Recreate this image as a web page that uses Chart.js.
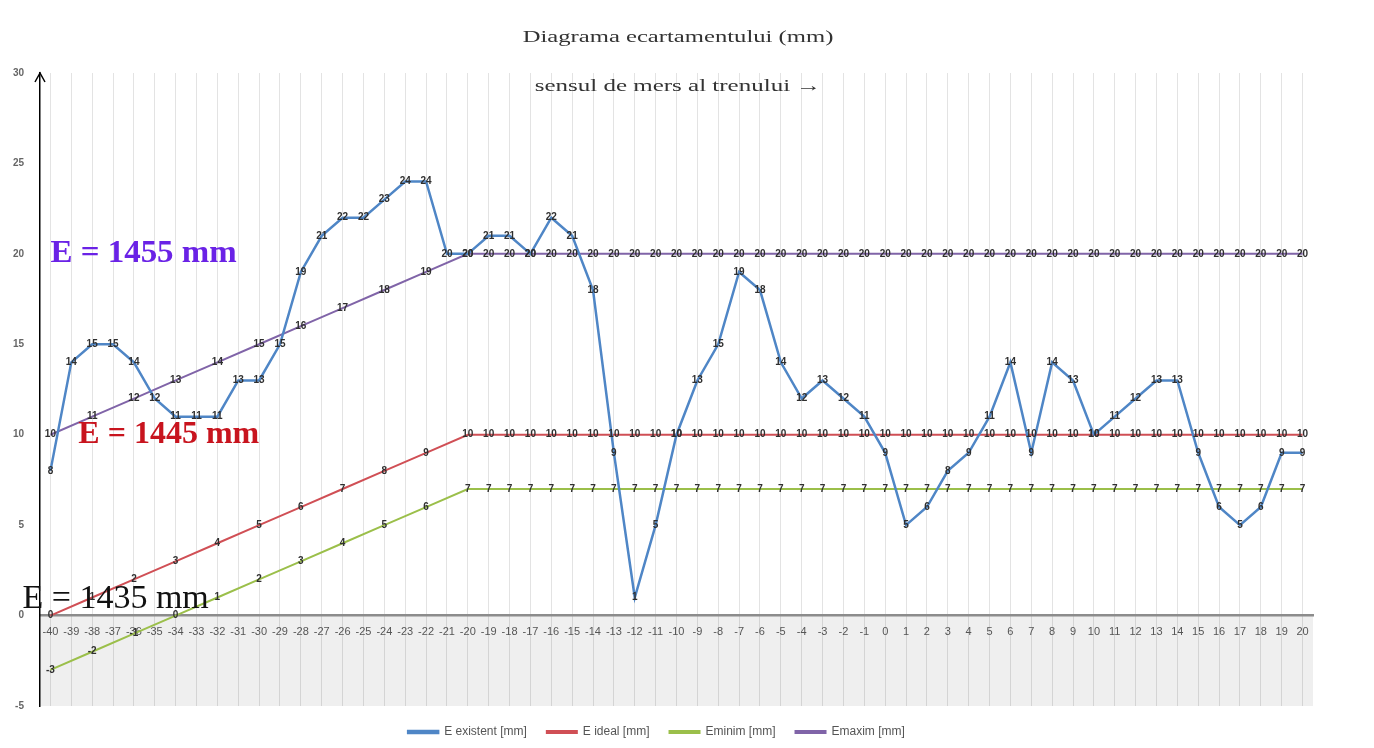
<!DOCTYPE html>
<html>
<head>
<meta charset="utf-8">
<script src="https://cdn.jsdelivr.net/npm/chart.js@4.4.1/dist/chart.umd.min.js"></script>
<style>
  body { margin: 0; background: #fff; }
  #wrap { width: 1374px; height: 748px; }
</style>
</head>
<body>
<div id="wrap"><canvas id="myChart"></canvas></div>
<script>
// pozitiile de masurare (categorii pe axa x)
const categories = ['-40','-39','-38','-37','-36','-35','-34','-33','-32','-31','-30','-29','-28','-27','-26','-25','-24','-23','-22','-21',
  '-20','-19','-18','-17','-16','-15','-14','-13','-12','-11','-10','-9','-8','-7','-6','-5','-4','-3','-2','-1',
  '0','1','2','3','4','5','6','7','8','9','10','11','12','13','14','15','16','17','18','19','20'];

// E existent [mm]
const eExistent = [8,14,15,15,14,12,11,11,11,13,13,15,19,21,22,22,23,24,24,20,
  20,21,21,20,22,21,18,9,1,5,10,13,15,19,18,14,12,13,12,11,
  9,5,6,8,9,11,14,9,14,13,10,11,12,13,13,9,6,5,6,9,9];

// E ideal [mm] (valori doar din 2 in 2 pe rampa)
const eIdeal = [0,null,1,null,2,null,3,null,4,null,5,null,6,null,7,null,8,null,9,null,
  10,10,10,10,10,10,10,10,10,10,10,10,10,10,10,10,10,10,10,10,
  10,10,10,10,10,10,10,10,10,10,10,10,10,10,10,10,10,10,10,10,10];

// Eminim [mm]
const eMinim = [-3,null,-2,null,-1,null,0,null,1,null,2,null,3,null,4,null,5,null,6,null,
  7,7,7,7,7,7,7,7,7,7,7,7,7,7,7,7,7,7,7,7,
  7,7,7,7,7,7,7,7,7,7,7,7,7,7,7,7,7,7,7,7,7];

// Emaxim [mm]
const eMaxim = [10,null,11,null,12,null,13,null,14,null,15,null,16,null,17,null,18,null,19,null,
  20,20,20,20,20,20,20,20,20,20,20,20,20,20,20,20,20,20,20,20,
  20,20,20,20,20,20,20,20,20,20,20,20,20,20,20,20,20,20,20,20,20];

const yTicks = [-5, 0, 5, 10, 15, 20, 25, 30];

// texte stranse un pic pe orizontala, ca in poza originala
function drawText(ctx, text, x, y, font, color, align, sx) {
  ctx.save();
  ctx.font = font;
  ctx.fillStyle = color;
  ctx.textAlign = align;
  ctx.textBaseline = 'middle';
  ctx.translate(x, y);
  ctx.scale(sx, 1);
  ctx.fillText(text, 0, 0);
  ctx.restore();
}

const decor = {
  id: 'decor',
  beforeDraw(chart) {
    const { ctx, chartArea: a, scales } = chart;
    ctx.save();
    ctx.fillStyle = '#fff';
    ctx.fillRect(0, 0, chart.width, chart.height);
    // banda gri sub zero
    const y0 = scales.y.getPixelForValue(0);
    ctx.fillStyle = '#efefef';
    ctx.fillRect(a.left, y0, a.right - a.left, a.bottom - y0);
    ctx.restore();
  },
  afterDatasetsDraw(chart) {
    const { ctx, scales } = chart;
    // etichetele de date
    ctx.save();
    ctx.font = 'bold 10px "Liberation Sans"';
    ctx.fillStyle = '#2f2f2f';
    ctx.textAlign = 'center';
    ctx.textBaseline = 'middle';
    chart.data.datasets.forEach((ds, di) => {
      const meta = chart.getDatasetMeta(di);
      ds.data.forEach((v, i) => {
        if (v === null) return;
        const el = meta.data[i];
        ctx.fillText(String(v), el.x, el.y);
      });
    });
    ctx.restore();

    // E = ... mm
    const xs = scales.x, ys = scales.y;
    drawText(ctx, 'E = 1455 mm', xs.getPixelForValue(0), ys.getPixelForValue(20), 'bold 32px "Liberation Serif"', '#6a22e6', 'left', 1.03);
    drawText(ctx, 'E = 1445 mm', xs.getPixelForValue(1) + 7, ys.getPixelForValue(10), 'bold 32px "Liberation Serif"', '#c8141e', 'left', 1.0);
    drawText(ctx, 'E = 1435 mm', xs.getPixelForValue(0) - 28, ys.getPixelForValue(0.9), '34px "Liberation Serif"', '#111', 'left', 1.0);
  },
  afterDraw(chart) {
    const { ctx, chartArea: a } = chart;
    // sageata pe axa y
    ctx.save();
    ctx.strokeStyle = '#000';
    ctx.lineWidth = 1.5;
    ctx.beginPath();
    ctx.moveTo(a.left - 5, a.top + 9);
    ctx.lineTo(a.left, a.top);
    ctx.lineTo(a.left + 5, a.top + 9);
    ctx.stroke();
    ctx.restore();

    const cx = 678;
    drawText(ctx, 'Diagrama ecartamentului (mm)', cx, 38, '17px "Liberation Serif"', '#333', 'center', 1.45);
    drawText(ctx, 'sensul de mers al trenului \u2192', cx, 87, '17px "Liberation Serif"', '#333', 'center', 1.47);
  }
};

new Chart(document.getElementById('myChart'), {
  type: 'line',
  data: {
    labels: categories,
    datasets: [
      { label: 'E existent [mm]', data: eExistent, borderColor: '#4f86c6', backgroundColor: '#4f86c6', borderWidth: 2.5 },
      { label: 'E ideal [mm]', data: eIdeal, borderColor: '#d04f55', backgroundColor: '#d04f55', borderWidth: 2 },
      { label: 'Eminim [mm]', data: eMinim, borderColor: '#9bbf4a', backgroundColor: '#9bbf4a', borderWidth: 2 },
      { label: 'Emaxim [mm]', data: eMaxim, borderColor: '#8064a8', backgroundColor: '#8064a8', borderWidth: 2 }
    ]
  },
  options: {
    responsive: true,
    maintainAspectRatio: false,
    animation: false,
    spanGaps: true,
    elements: {
      point: { radius: 0, hoverRadius: 0 },
      line: { tension: 0 }
    },
    layout: { padding: { top: 73, right: 61, left: 0, bottom: 0 } },
    scales: {
      x: {
        position: { y: 0 },
        offset: true,
        grid: { display: true, offset: false, color: 'rgba(0,0,0,0.11)', drawTicks: false },
        border: { color: '#8c8c8c', width: 2.5 },
        ticks: {
          autoSkip: false,
          maxRotation: 0,
          padding: 10,
          color: '#555',
          font: { family: 'Liberation Sans', size: 11 }
        }
      },
      y: {
        min: -5,
        max: 30,
        afterBuildTicks: s => { s.ticks = yTicks.map(v => ({ value: v })); },
        afterFit: s => { s.width = 40; },
        grid: { display: false, drawTicks: false },
        border: { color: '#000', width: 1.5 },
        ticks: {
          padding: 16,
          color: '#666',
          font: { family: 'Liberation Sans', size: 10, weight: 'bold' }
        }
      }
    },
    plugins: {
      title: { display: false },
      tooltip: { enabled: false },
      legend: {
        position: 'bottom',
        labels: {
          boxWidth: 30,
          boxHeight: 2,
          padding: 20,
          color: '#555',
          font: { family: 'Liberation Sans', size: 12 }
        }
      }
    }
  },
  plugins: [decor]
});
</script>
</body>
</html>
